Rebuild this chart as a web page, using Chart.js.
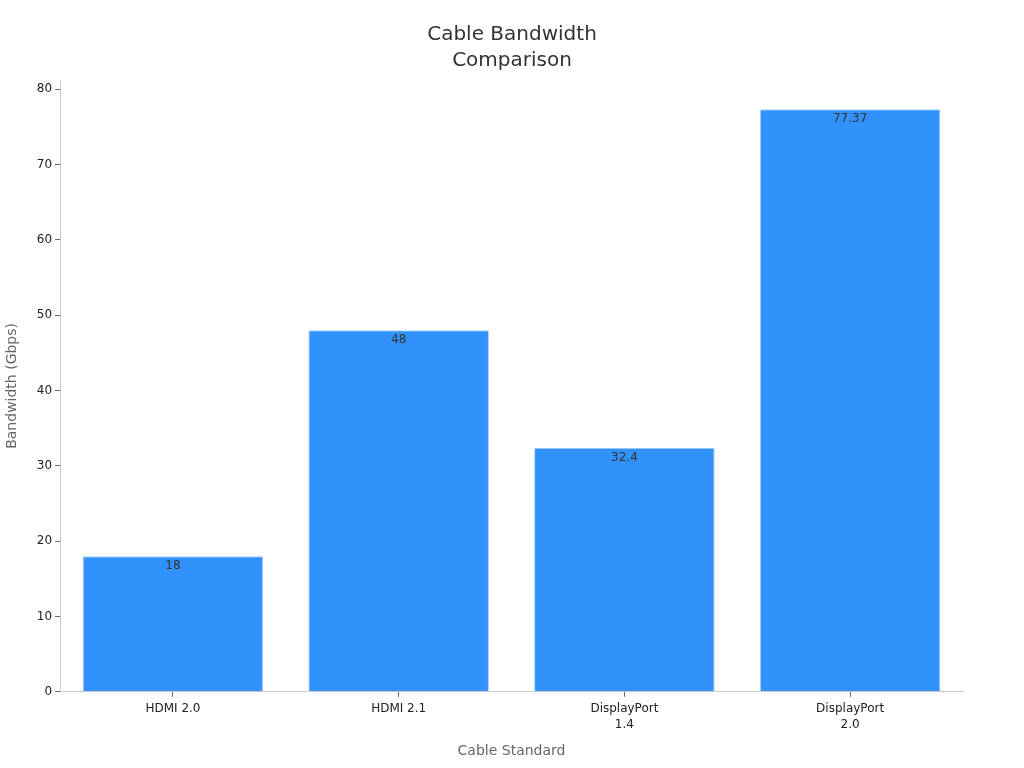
<!DOCTYPE html>
<html><head><meta charset="utf-8">
<script src="https://cdn.jsdelivr.net/npm/chart.js"></script>
<style>html,body{margin:0;padding:0;background:#fff}#w{width:1024px;height:768px}</style>
</head><body><div id="w"><canvas id="c"></canvas></div>
<script>
const categories = [["HDMI 2.0"], ["HDMI 2.1"], ["DisplayPort", "1.4"], ["DisplayPort", "2.0"]];
const bandwidth = [18, 48, 32.4, 77.37];
const yTicks = [0, 10, 20, 30, 40, 50, 60, 70, 80];

const labelPlugin = {
  id: 'barLabels',
  afterDatasetsDraw(chart) {
    const ctx = chart.ctx;
    const meta = chart.getDatasetMeta(0);
    ctx.save();
    ctx.font = '12px "DejaVu Sans"';
    ctx.fillStyle = '#333';
    ctx.textAlign = 'center';
    ctx.textBaseline = 'middle';
    meta.data.forEach((bar, i) => {
      ctx.fillText(String(bandwidth[i]), bar.x, bar.y + 10);
    });
    ctx.restore();
  }
};

Chart.defaults.font.family = '"DejaVu Sans", sans-serif';
new Chart(document.getElementById('c'), {
  type: 'bar',
  data: {
    labels: categories,
    datasets: [{
      data: bandwidth,
      backgroundColor: '#3092fa',
      borderColor: '#a8d2ff',
      borderWidth: 1,
      barPercentage: 0.8,
      categoryPercentage: 1.0
    }]
  },
  options: {
    responsive: true,
    maintainAspectRatio: false,
    animation: false,
    layout: { padding: { left: 0, right: 0, top: 0, bottom: 8 } },
    plugins: {
      legend: { display: false },
      tooltip: { enabled: false },
      title: {
        display: true,
        text: ['Cable Bandwidth', 'Comparison'],
        color: '#333',
        font: { size: 20, weight: 'normal', lineHeight: 1.3 },
        padding: { top: 22, bottom: 6 }
      }
    },
    scales: {
      x: {
        grid: { display: true, offset: false, drawOnChartArea: false, drawTicks: true, tickLength: 5, color: '#666' },
        border: { display: true, color: '#ccc' },
        ticks: { color: '#222', font: { size: 12, lineHeight: 1.35 }, maxRotation: 0, padding: 4 },
        title: { display: true, text: 'Cable Standard', color: '#666', font: { size: 14 }, padding: { top: 6, bottom: 0 } }
      },
      y: {
        min: 0,
        max: 81.24,
        afterBuildTicks(scale) { scale.ticks = yTicks.map(v => ({ value: v })); },
        grid: { display: true, drawOnChartArea: false, drawTicks: true, tickLength: 5, color: '#666' },
        border: { display: true, color: '#ccc' },
        ticks: { color: '#222', font: { size: 12 }, padding: 3 },
        title: { display: true, text: 'Bandwidth (Gbps)', color: '#666', font: { size: 14 }, padding: { top: 4, bottom: 13 } }
      },
      yRight: {
        position: 'right',
        display: true,
        grid: { display: false },
        border: { display: false },
        ticks: { display: false },
        afterFit(scale) { scale.width = 61; }
      }
    }
  },
  plugins: [labelPlugin]
});
</script></body></html>
